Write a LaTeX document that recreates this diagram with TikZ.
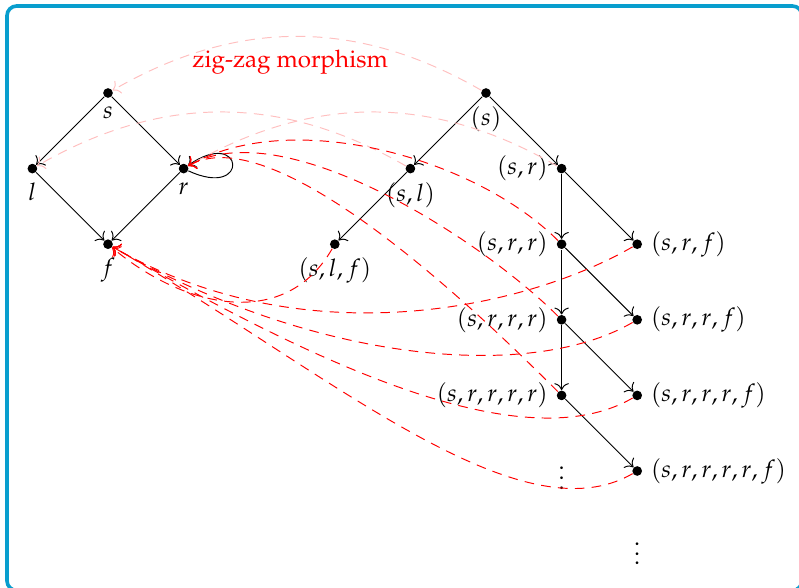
\documentclass[tikz,border=0pt]{standalone}
\usepackage[T1]{fontenc}
\usepackage{mathpazo}
\usetikzlibrary{arrows.meta}
\definecolor{framecol}{RGB}{8,158,206}

\begin{document}
\begin{tikzpicture}[
    x=1.1cm, y=1.1cm,
    world/.style={
      circle,
      fill=black,
      inner sep=0pt,
      minimum size=4pt
    },
    access/.style={
      -{To[scale=1.15]},
      draw=black,
      line width=0.4pt
    },
    zigzag/.style={
      -{To[scale=1.15]},
      draw=red,
      dash pattern=on 4pt off 3pt
    },
    zigfaint/.style={
      zigzag,
      draw=red!25
    }
  ]
    \useasboundingbox (-1.4286,-6.5476) rectangle (9.1402,1.2302);
    \draw[framecol, line width=1.5pt, rounded corners=4pt]
      (-1.336,-6.58) rectangle (9.18,1.151);

    % the small frame
    \node[world, label=below:$s$] (s) at (0,0) {};
    \node[world, label=below:$l$] (l) at (-1,-1) {};
    \node[world, label=below:$r$] (r) at (1,-1) {};
    \node[world, label=below:$f$] (f) at (0,-2) {};

    \draw[access] (s) -- (l);
    \draw[access] (s) -- (r);
    \draw[access] (l) -- (f);
    \draw[access] (r) -- (f);
    \draw[access] (r) to[out=-25, in=35, loop, min distance=1cm] (r);

    % the unravelled tree
    \node[world, label=below:$(s)$] (ts) at (5,0) {};
    \node[world, label={below:$(s,l)$}] (tsl) at (4,-1) {};
    \node[world, label={left:$(s,r)$}] (tsr) at (6,-1) {};
    \node[world, label={below:$(s,l,f)$}] (tslf) at (3,-2) {};
    \node[world, label={left:$(s,r,r)$}] (tsrr) at (6,-2) {};
    \node[world, label={right:$(s,r,f)$}] (tsrf) at (7,-2) {};
    \node[world, label={left:$(s,r,r,r)$}] (tsrrr) at (6,-3) {};
    \node[world, label={right:$(s,r,r,f)$}] (tsrrf) at (7,-3) {};
    \node[world, label={left:$(s,r,r,r,r)$}] (tsrrrr) at (6,-4) {};
    \node[world, label={right:$(s,r,r,r,f)$}] (tsrrrf) at (7,-4) {};
    \node[world, label={right:$(s,r,r,r,r,f)$}] (tsrrrrf) at (7,-5) {};
    \node (vdotsa) at (6,-5) {$\vdots$};
    \node (vdotsb) at (7,-6) {$\vdots$};

    \draw[access] (ts) -- (tsl);
    \draw[access] (ts) -- (tsr);
    \draw[access] (tsl) -- (tslf);
    \draw[access] (tsr) -- (tsrr);
    \draw[access] (tsr) -- (tsrf);
    \draw[access] (tsrr) -- (tsrrr);
    \draw[access] (tsrr) -- (tsrrf);
    \draw[access] (tsrrr) -- (tsrrrr);
    \draw[access] (tsrrr) -- (tsrrrf);
    \draw[access] (tsrrrr) -- (tsrrrrf);

    % the morphism
    \node[text=red] (zzlabel) at (2.41,0.41) {zig-zag morphism};
    \draw[zigfaint] (ts) to[bend right=30] (s);
    \draw[zigfaint] (tsl) to[bend right=30] (l);
    \draw[zigfaint] (tsr) to[bend right=30] (r);
    \draw[zigzag] (tsrr) to[out=135, in=30, looseness=0.8] (r);
    \draw[zigzag] (tsrrr) to[out=135, in=30, looseness=0.7] (r);
    \draw[zigzag] (tsrrrr) to[out=135, in=30, looseness=0.6] (r);
    \draw[zigzag] (tslf) to[out=240, in=-40, looseness=1.1] (f);
    \draw[zigzag] (tsrf) to[out=210, in=-30, out looseness=0.6, in looseness=1.1] (f);
    \draw[zigzag] (tsrrf) to[out=210, in=-30, out looseness=0.6, in looseness=1.1] (f);
    \draw[zigzag] (tsrrrf) to[out=210, in=-30, out looseness=0.6, in looseness=1.1] (f);
    \draw[zigzag] (tsrrrrf) to[out=210, in=-30, out looseness=0.6, in looseness=1.1] (f);
  \end{tikzpicture}
\end{document}
